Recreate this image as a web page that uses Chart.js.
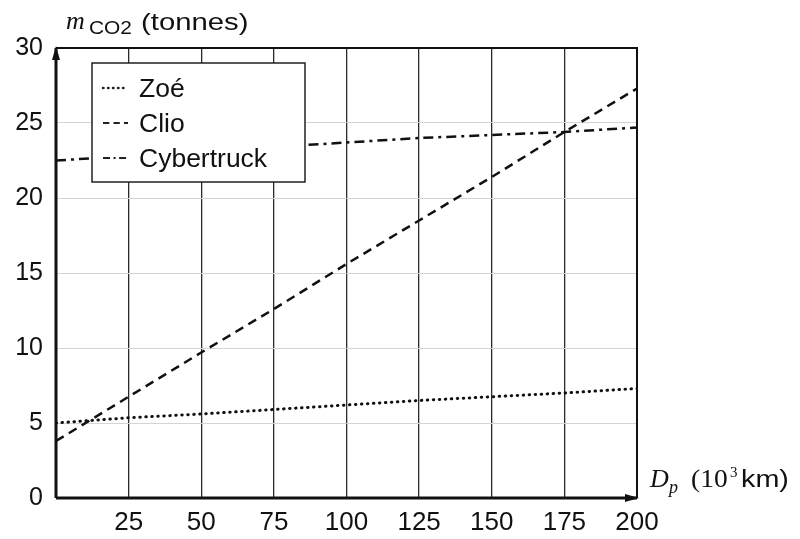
<!DOCTYPE html>
<html>
<head>
<meta charset="utf-8">
<script src="https://cdn.jsdelivr.net/npm/chart.js@4/dist/chart.umd.min.js"></script>
<style>
  html, body { margin: 0; padding: 0; background: #fff; overflow: hidden; }
</style>
</head>
<body>
<canvas id="co2-chart" width="800" height="539"></canvas>
<script>
// distance parcourue (10^3 km)
const distances = [0, 25, 50, 75, 100, 125, 150, 175, 200]
const zoe = [5.0, 5.35, 5.6, 5.9, 6.2, 6.5, 6.75, 7.0, 7.3]
const clio = [3.8, 6.75, 9.7, 12.6, 15.6, 18.5, 21.4, 24.4, 27.3]
const cybertruck = [22.5, 22.8, 23.1, 23.4, 23.7, 24.0, 24.2, 24.4, 24.7]
const seriesNames = ['Zoé', 'Clio', 'Cybertruck']
const xTicks = [25, 50, 75, 100, 125, 150, 175, 200]
const yTicks = [0, 5, 10, 15, 20, 25, 30]

const sans = '"Liberation Sans", Arial, sans-serif'
const serif = '"Liberation Serif", "DejaVu Serif", serif'
const dashes = [[0.5, 5.5], [9, 6], [10, 5, 3, 5]]
const caps = ['round', 'butt', 'butt']

const toPoints = (ys) => distances.map((x, i) => ({ x, y: ys[i] }))

// text stretched sideways a bit, like the scan
function txt(ctx, s, x, y, font, sx = 1) {
  ctx.save()
  ctx.font = font
  ctx.translate(x, y)
  ctx.scale(sx, 1)
  ctx.fillText(s, 0, 0)
  ctx.restore()
}

// legend, axis frame, arrows and axis titles
const decor = {
  id: 'decor',
  afterDatasetsDraw(chart) {
    const { ctx, chartArea: a } = chart
    ctx.save()

    // frame: top and right
    ctx.strokeStyle = '#111'
    ctx.lineWidth = 2
    ctx.beginPath()
    ctx.moveTo(a.left, a.top)
    ctx.lineTo(a.right, a.top)
    ctx.lineTo(a.right, a.bottom)
    ctx.stroke()

    // main axes
    ctx.lineWidth = 3
    ctx.beginPath()
    ctx.moveTo(a.left, a.bottom)
    ctx.lineTo(a.left, a.top)
    ctx.moveTo(a.left, a.bottom)
    ctx.lineTo(a.right, a.bottom)
    ctx.stroke()

    // arrow heads
    ctx.fillStyle = '#111'
    ctx.beginPath()
    ctx.moveTo(a.left, a.top - 2)
    ctx.lineTo(a.left - 4, a.top + 12)
    ctx.lineTo(a.left + 4, a.top + 12)
    ctx.closePath()
    ctx.fill()
    ctx.beginPath()
    ctx.moveTo(a.right + 2, a.bottom)
    ctx.lineTo(a.right - 12, a.bottom - 4)
    ctx.lineTo(a.right - 12, a.bottom + 4)
    ctx.closePath()
    ctx.fill()

    // legend box
    const lx = a.left + 36, ly = a.top + 15, lw = 213, lh = 119
    ctx.fillStyle = '#fff'
    ctx.fillRect(lx, ly, lw, lh)
    ctx.lineWidth = 1.5
    ctx.strokeStyle = '#222'
    ctx.strokeRect(lx, ly, lw, lh)
    ctx.textBaseline = 'alphabetic'
    ctx.fillStyle = '#111'
    seriesNames.forEach((name, i) => {
      const y = ly + 25 + i * 35
      ctx.setLineDash(i === 0 ? [0.5, 4.5] : dashes[i].map((d) => d * 0.7))
      ctx.lineCap = caps[i]
      ctx.lineWidth = i === 0 ? 2.5 : 2
      ctx.beginPath()
      ctx.moveTo(lx + 11, y)
      ctx.lineTo(lx + 36, y)
      ctx.stroke()
      ctx.setLineDash([])
      ctx.lineCap = 'butt'
      txt(ctx, name, lx + 47, y + 9, '25px ' + sans, 1.06)
    })

    // y axis title
    txt(ctx, 'm', 66, 29, 'italic 26px ' + serif)
    txt(ctx, 'CO2', 89, 34, '19px ' + sans, 1.1)
    txt(ctx, '(tonnes)', 141, 30, '24px ' + sans, 1.22)

    // x axis title
    txt(ctx, 'D', 650, 487, 'italic 26px ' + serif)
    txt(ctx, 'p', 669, 493, 'italic 18px ' + serif)
    txt(ctx, '(10', 691, 487, '25px ' + serif, 1.1)
    txt(ctx, '3', 730, 477, '15px ' + serif)
    txt(ctx, 'km)', 741, 487, '23px ' + sans, 1.25)

    ctx.restore()
  },
}

new Chart(document.getElementById('co2-chart'), {
  type: 'line',
  data: {
    datasets: [zoe, clio, cybertruck].map((ys, i) => ({
      label: seriesNames[i],
      data: toPoints(ys),
      borderColor: '#111',
      borderWidth: i === 0 ? 3 : 2.5,
      borderDash: dashes[i],
      borderCapStyle: caps[i],
      pointRadius: 0,
      fill: false,
      tension: 0,
    })),
  },
  options: {
    responsive: false,
    animation: false,
    devicePixelRatio: 1,
    layout: { padding: { top: 48, right: 163, left: 0, bottom: 0 } },
    plugins: { legend: { display: false }, tooltip: { enabled: false } },
    scales: {
      x: {
        type: 'linear',
        min: 0,
        max: 200,
        afterBuildTicks: (s) => { s.ticks = xTicks.map((v) => ({ value: v })) },
        afterFit: (s) => { s.height = 41 },
        border: { display: false },
        grid: {
          drawTicks: false,
          color: (c) => (c.tick && (c.tick.value === 0 || c.tick.value === 200) ? 'rgba(0,0,0,0)' : '#2a2a2a'),
          lineWidth: 1.3,
        },
        ticks: {
          padding: 9,
          color: '#111',
          autoSkip: false,
          maxRotation: 0,
          minRotation: 0,
          font: { family: sans, size: 26 },
        },
      },
      y: {
        min: 0,
        max: 30,
        afterBuildTicks: (s) => { s.ticks = yTicks.map((v) => ({ value: v })) },
        afterFit: (s) => { s.width = 56 },
        border: { display: false },
        grid: {
          drawTicks: false,
          color: (c) => (c.tick && (c.tick.value === 0 || c.tick.value === 30) ? 'rgba(0,0,0,0)' : '#d4d4d4'),
          lineWidth: 1,
        },
        ticks: {
          padding: 13,
          color: '#111',
          autoSkip: false,
          font: { family: sans, size: 25 },
        },
      },
    },
  },
  plugins: [decor],
})
</script>
</body>
</html>
